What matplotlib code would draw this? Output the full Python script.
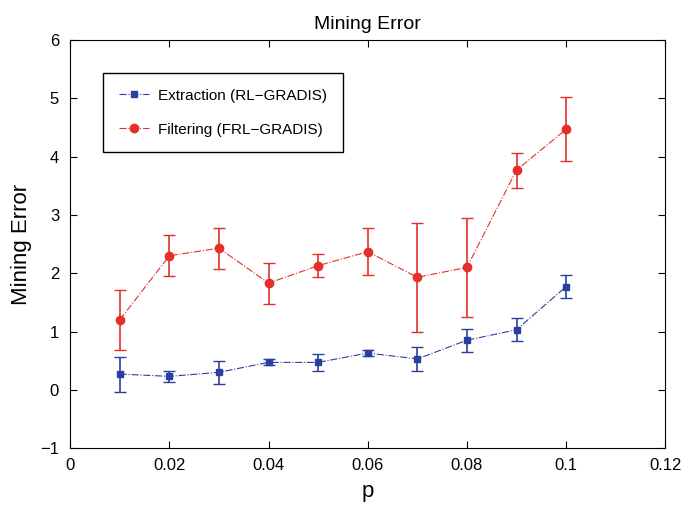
import matplotlib
matplotlib.use("Agg")
import matplotlib.pyplot as plt

plt.rcParams["font.family"] = ["Liberation Sans", "DejaVu Sans"]

# dados
p = [0.01, 0.02, 0.03, 0.04, 0.05, 0.06, 0.07, 0.08, 0.09, 0.10]
extracao = [0.27, 0.23, 0.30, 0.47, 0.47, 0.63, 0.53, 0.85, 1.03, 1.77]
extracao_err = [0.30, 0.10, 0.20, 0.05, 0.14, 0.05, 0.20, 0.20, 0.20, 0.20]
filtragem = [1.20, 2.30, 2.43, 1.83, 2.13, 2.37, 1.93, 2.10, 3.77, 4.47]
filtragem_err = [0.52, 0.35, 0.35, 0.35, 0.20, 0.40, 0.93, 0.85, 0.30, 0.55]

azul = "#2a3f9e"
vermelho = "#e3302a"

fig = plt.figure(figsize=(6.88, 5.08), dpi=100)
ax = fig.add_axes([0.102, 0.118, 0.865, 0.803])

# barras de erro
ax.errorbar(p, extracao, yerr=extracao_err, fmt="none", ecolor=azul, elinewidth=1.2, capsize=4)
ax.errorbar(p, filtragem, yerr=filtragem_err, fmt="none", ecolor=vermelho, elinewidth=1.2, capsize=4)

# linhas
ax.plot(p, extracao, color=azul, linestyle="-.", linewidth=0.8, marker="s", markersize=5,
        label="Extraction (RL\u2212GRADIS)")
ax.plot(p, filtragem, color=vermelho, linestyle="-.", linewidth=0.8, marker="o", markersize=6,
        label="Filtering (FRL\u2212GRADIS)")

ax.set_xlim(0, 0.12)
ax.set_ylim(-1, 6)
ax.set_xticks([0, 0.02, 0.04, 0.06, 0.08, 0.1, 0.12])
ax.set_xticklabels(["0", "0.02", "0.04", "0.06", "0.08", "0.1", "0.12"])
ax.set_yticks(range(-1, 7))
ax.set_yticklabels(["\u22121", "0", "1", "2", "3", "4", "5", "6"])
ax.tick_params(direction="in", labelsize=12, top=True, right=True, length=5)
ax.tick_params(axis="x", pad=7)
ax.tick_params(axis="y", pad=8)
ax.set_title("Mining Error", fontsize=14, pad=8)
ax.set_xlabel("p", fontsize=16, labelpad=6)
ax.set_ylabel("Mining Error", fontsize=16, labelpad=6)

leg = ax.legend(loc="upper left", bbox_to_anchor=(0.043, 0.937), fontsize=11, fancybox=False,
                edgecolor="black", framealpha=1, borderpad=1.0, labelspacing=1.3,
                handlelength=2.0, handletextpad=0.6)
leg.get_frame().set_linewidth(1.0)

plt.savefig("out.png", dpi=100)
